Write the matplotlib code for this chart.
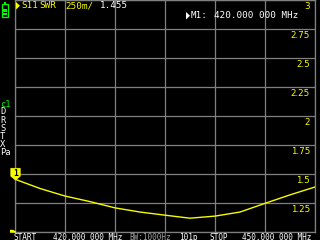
import matplotlib.pyplot as plt
from matplotlib.patches import Polygon, Rectangle

# =============================================================================
# Data (S11 SWR trace, 420-450 MHz)
# =============================================================================
freq_mhz = [420.0, 422.5, 425.0, 427.5, 430.0, 432.5, 435.0,
            437.5, 440.0, 442.5, 445.0, 447.5, 450.0]
swr      = [1.455, 1.375, 1.310, 1.262, 1.208, 1.172, 1.145,
            1.119, 1.137, 1.172, 1.247, 1.320, 1.388]

x_ticks  = [420, 425, 430, 435, 440, 445, 450]
y_ticks  = [1.0, 1.25, 1.5, 1.75, 2.0, 2.25, 2.5, 2.75, 3.0]
y_labels = ["", "1.25", "1.5", "1.75", "2", "2.25", "2.5", "2.75", "3"]

# =============================================================================
# Colours / fonts
# =============================================================================
YEL  = "#f8fc00"
GRN  = "#00fc00"
GRID = "#808080"
MONO = ["DejaVu Sans Mono", "DejaVu Sans"]

W, H = 320, 240
fig = plt.figure(figsize=(W / 100, H / 100), dpi=100, facecolor="black")

# plot area: x 15..315 px, y 0..232 px (from top)
ax = fig.add_axes([15 / W, 8 / H, 300 / W, 232 / H], facecolor="black")
ax.set_xlim(420, 450)
ax.set_ylim(1, 3)
ax.set_xticks(x_ticks)
ax.set_yticks(y_ticks)
ax.tick_params(length=0, labelbottom=False, labelleft=False)
ax.grid(True, color=GRID, linewidth=0.9)
for s in ax.spines.values():
    s.set_color(GRID)
    s.set_linewidth(0.9)

ax.plot(freq_mhz, swr, color=YEL, linewidth=1.0, zorder=3)

# scale labels on the right, just under each grid line
px = 2.0 / 232
for v, lab in zip(y_ticks, y_labels):
    ax.text(450 - 5 * 30 / 300, v - 2 * px, lab, color=YEL, fontsize=6.3,
            family="DejaVu Sans", ha="right", va="top")

# =============================================================================
# Overlay in screen pixels for the status text and icons
# =============================================================================
ov = fig.add_axes([0, 0, 1, 1], facecolor="none")
ov.set_xlim(0, W)
ov.set_ylim(H, 0)
ov.axis("off")

def txt(x, y, s, color="white", size=6.7, **kw):
    ov.text(x, y, s, color=color, fontsize=size, family=MONO,
            ha="left", va="top", **kw)

def tri(x, y, color):
    ov.add_patch(Polygon([(x, y), (x, y + 7.5), (x + 4, y + 3.75)],
                         closed=True, facecolor=color, edgecolor="none"))

# header
tri(16, 2, YEL)
txt(21, 1.5, "S11", color=YEL)
txt(39, 1.5, "SWR", color=YEL)
txt(65, 1.5, "250m/", color=YEL)
txt(100, 1.5, "1.455")
tri(186, 12, "white")
txt(191, 11.5, "M1:")
txt(214, 11.5, "420.000 000 MHz")

# footer
FS = 5.6
txt(14, 232.5, "START", size=FS)
txt(53, 232.5, "420.000 000 MHz", size=FS)
txt(129, 232.5, "BW:1000Hz", color="#a0a0a0", size=FS)
txt(179, 232.5, "101p", size=FS)
txt(209, 232.5, "STOP", size=FS)
txt(242, 232.5, "450.000 000 MHz", size=FS)

# left side menu letters
txt(0, 100, "c1", color=GRN, size=6.3)
for i, ch in enumerate(["D", "R", "S", "T", "X", "Pa"]):
    txt(0, 107.5 + i * 8.1, ch, size=6.3)

# battery icon
ov.add_patch(Rectangle((3.5, 1.5), 2.5, 2.2, color=GRN, lw=0))
ov.add_patch(Rectangle((1.8, 3.7), 6.0, 13.0, fill=False, edgecolor=GRN, lw=0.9))
ov.add_patch(Rectangle((3.0, 9.3), 3.6, 2.4, color=GRN, lw=0))
ov.add_patch(Rectangle((3.0, 12.8), 3.6, 2.6, color=GRN, lw=0))

# marker 1 flag at trace start
ov.add_patch(Polygon([(10.8, 168.3), (20.2, 168.3), (20.2, 176.2),
                      (15.5, 180.0), (10.8, 176.2)], closed=True,
                     facecolor=YEL, edgecolor=YEL, lw=0.5, zorder=5))
ov.text(15.6, 173.3, "1", color="black", fontsize=5.8, family=MONO,
        weight="bold", ha="center", va="center", zorder=6)

# reference level marker
ov.add_patch(Polygon([(10, 229.8), (13, 229.8), (16, 231.5), (16, 232.8),
                      (10, 232.8)], closed=True, facecolor=YEL,
                     edgecolor="none", zorder=5))

fig.savefig("out.png", dpi=100, facecolor="black")
